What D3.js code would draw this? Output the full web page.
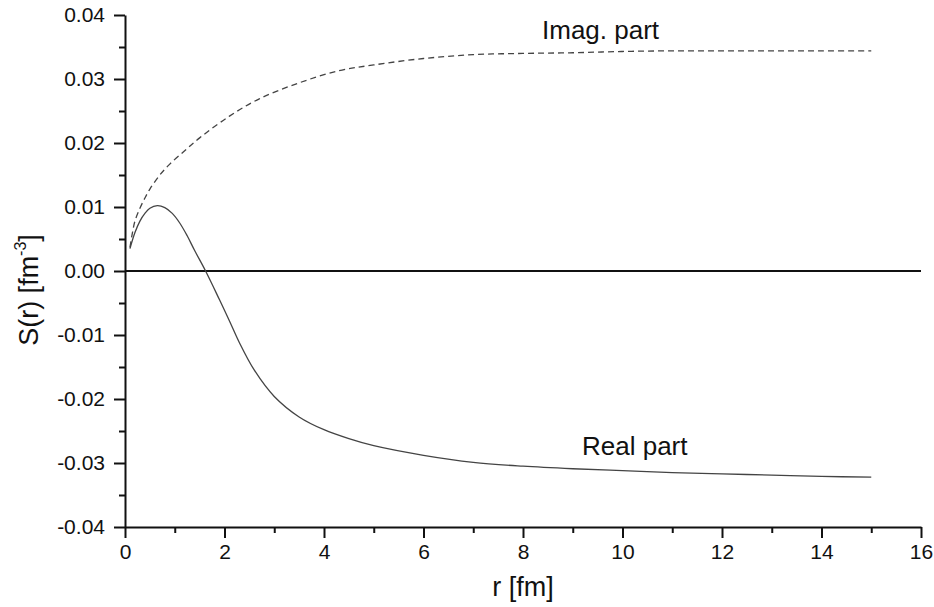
<!DOCTYPE html>
<html>
<head>
<meta charset="utf-8">
<script src="https://cdn.jsdelivr.net/npm/d3@7"></script>
<style>
  body { margin: 0; background: #fff; }
  svg { display: block; font-family: 'Liberation Sans', Arial, sans-serif; }
</style>
</head>
<body>
<svg id="chart" width="934" height="607"></svg>
<script>
// r [fm] values
const realR = [0.1, 0.2, 0.3, 0.4, 0.5, 0.65, 0.8, 0.95, 1.1, 1.25, 1.4, 1.62, 1.9, 2.1, 2.3, 2.6, 3.0, 3.5, 4.0, 4.5, 5.0, 6.0, 7.0, 8.0, 9.0, 10.0, 11.0, 12.0, 13.0, 14.0, 15.0]
const realS = [0.0035, 0.0060, 0.0078, 0.0090, 0.0098, 0.0102, 0.0099, 0.0090, 0.0075, 0.0055, 0.0032, 0.0, -0.0045, -0.0078, -0.0112, -0.0155, -0.0196, -0.0228, -0.0248, -0.0262, -0.0273, -0.0288, -0.0299, -0.0305, -0.0309, -0.0312, -0.0315, -0.0317, -0.0319, -0.0321, -0.0322]

const imagR = [0.1, 0.15, 0.2, 0.3, 0.4, 0.5, 0.7, 0.9, 1.2, 1.5, 2.1, 2.7, 3.5, 4.3, 5.0, 6.0, 7.0, 8.0, 9.0, 10.0, 11.0, 12.0, 13.0, 14.0, 15.0]
const imagS = [0.0037, 0.0060, 0.0078, 0.0098, 0.0114, 0.0128, 0.0150, 0.0167, 0.0188, 0.0208, 0.0242, 0.0269, 0.0294, 0.0313, 0.0322, 0.0332, 0.0338, 0.0340, 0.0341, 0.0343, 0.0344, 0.0344, 0.0344, 0.0344, 0.0344]

const xMajor = [0, 2, 4, 6, 8, 10, 12, 14, 16]
const xMinor = [1, 3, 5, 7, 9, 11, 13, 15]
const yMajor = [-0.04, -0.03, -0.02, -0.01, 0.00, 0.01, 0.02, 0.03, 0.04]
const yMinor = [-0.035, -0.025, -0.015, -0.005, 0.005, 0.015, 0.025, 0.035]

function draw() {
  const svg = d3.select('#chart')
  const left = 125, right = 921, top = 15, bottom = 527

  const x = d3.scaleLinear().domain([0, 16]).range([left, right])
  const y = d3.scaleLinear().domain([-0.04, 0.04]).range([bottom, top])

  // minor ticks first
  svg.append('g')
    .attr('transform', `translate(0,${bottom})`)
    .call(d3.axisBottom(x).tickValues(xMinor).tickSize(6).tickFormat(''))
    .call(g => g.select('.domain').remove())
  svg.append('g')
    .attr('transform', `translate(${left},0)`)
    .call(d3.axisLeft(y).tickValues(yMinor).tickSize(6).tickFormat(''))
    .call(g => g.select('.domain').remove())

  const xAxis = svg.append('g')
    .attr('transform', `translate(0,${bottom})`)
    .call(d3.axisBottom(x).tickValues(xMajor).tickSizeInner(11).tickSizeOuter(0).tickPadding(6))
  xAxis.selectAll('text').attr('font-size', 21).attr('fill', '#111')
    .attr('font-family', 'Liberation Sans, Arial, sans-serif')

  const yAxis = svg.append('g')
    .attr('transform', `translate(${left},0)`)
    .call(d3.axisLeft(y).tickValues(yMajor).tickSizeInner(11).tickSizeOuter(0).tickPadding(9)
      .tickFormat(d => Math.abs(d) < 1e-9 ? '0.00' : d.toFixed(2)))
  yAxis.selectAll('text').attr('font-size', 21).attr('fill', '#111')
    .attr('font-family', 'Liberation Sans, Arial, sans-serif')

  svg.selectAll('.domain').attr('stroke-width', 2).attr('stroke', '#111')
  svg.selectAll('.tick line').attr('stroke-width', 2).attr('stroke', '#111')

  // zero line
  svg.append('line')
    .attr('x1', x(0)).attr('x2', x(16))
    .attr('y1', y(0)).attr('y2', y(0))
    .attr('stroke', '#111').attr('stroke-width', 2)

  const line = d3.line()
    .x(d => x(d[0]))
    .y(d => y(d[1]))
    .curve(d3.curveCatmullRom.alpha(0.5))

  svg.append('path')
    .datum(d3.zip(realR, realS))
    .attr('d', line)
    .attr('fill', 'none')
    .attr('stroke', '#444')
    .attr('stroke-width', 1.3)

  svg.append('path')
    .datum(d3.zip(imagR, imagS))
    .attr('d', line)
    .attr('fill', 'none')
    .attr('stroke', '#444')
    .attr('stroke-width', 1.3)
    .attr('stroke-dasharray', '6,4')

  // curve labels
  svg.append('text').attr('x', 542).attr('y', 39)
    .attr('font-size', 26).attr('fill', '#111').text('Imag. part')
  svg.append('text').attr('x', 582).attr('y', 455)
    .attr('font-size', 26).attr('fill', '#111').text('Real part')

  // axis titles
  svg.append('text')
    .attr('x', (left + right) / 2).attr('y', 596)
    .attr('text-anchor', 'middle').attr('font-size', 27).attr('fill', '#111')
    .text('r [fm]')

  const yt = svg.append('text')
    .attr('transform', 'translate(38,290) rotate(-90)')
    .attr('text-anchor', 'middle').attr('font-size', 27).attr('fill', '#111')
  yt.append('tspan').text('S(r) [fm')
  yt.append('tspan').attr('font-size', 16).attr('dy', -12).text('-3')
  yt.append('tspan').attr('dy', 12).text(']')
}

document.addEventListener('DOMContentLoaded', draw, false)
</script>
</body>
</html>
